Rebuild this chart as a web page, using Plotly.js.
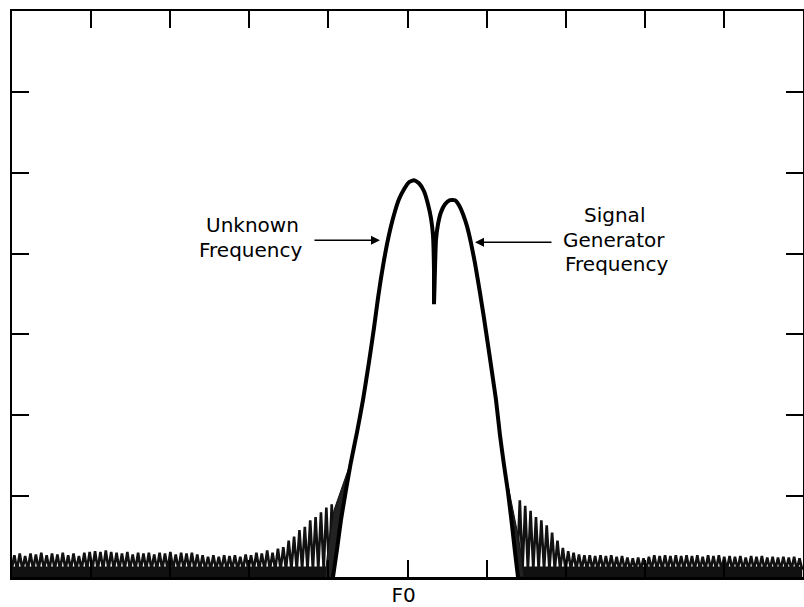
<!DOCTYPE html>
<html>
<head>
<meta charset="utf-8">
<script src="https://cdn.plot.ly/plotly-3.0.1.min.js"></script>
<style>html,body{margin:0;padding:0;background:#fff;}#chart{width:804px;height:607px;}</style>
</head>
<body>
<div id="chart"></div>
<script>
// Frequency axis in divisions (F0 at 5), amplitude in divisions (0..7)
const curveX = [4.058,4.108,4.159,4.222,4.285,4.362,4.437,4.513,4.576,4.627,4.665,4.703,4.741,4.791,4.842,4.892,4.956,5.019,5.082,5.145,5.209,5.259,5.297,5.322,5.335,5.335,5.347,5.360,5.386,5.423,5.474,5.537,5.601,5.651,5.702,5.752,5.803,5.853,5.917,5.967,6.018,6.068,6.119,6.169,6.220,6.270,6.321,6.359,6.397];
const curveY = [0,0.334,0.705,1.075,1.422,1.792,2.188,2.658,3.078,3.449,3.696,3.918,4.116,4.338,4.524,4.672,4.796,4.882,4.907,4.870,4.771,4.610,4.437,4.227,3.795,3.374,3.795,4.166,4.363,4.511,4.611,4.660,4.660,4.598,4.487,4.339,4.129,3.881,3.511,3.202,2.868,2.534,2.188,1.755,1.384,1.051,0.643,0.309,0];

// outer flank of the overlapping spectrum near the base
const leftFlankX = [3.957,4.008,4.071,4.147,4.248,4.362];
const leftFlankY = [0,0.457,0.828,1.038,1.323,1.792];
const rightFlankX = [6.169,6.245,6.321,6.397,6.448,6.473];
const rightFlankY = [1.755,1.261,0.890,0.519,0.210,0];

// sidelobe / noise peaks
const noiseLeftStart = 0.03, noiseRightStart = 6.42, noiseStep = 0.068, noiseFloor = 0.09, floorTop = 0.13;
const noiseLeftPeaks = [0.27,0.29,0.26,0.29,0.28,0.30,0.27,0.29,0.28,0.30,0.27,0.29,0.26,0.30,0.31,0.32,0.31,0.33,0.31,0.30,0.29,0.31,0.28,0.30,0.29,0.30,0.28,0.30,0.29,0.31,0.28,0.30,0.29,0.30,0.28,0.27,0.25,0.27,0.25,0.27,0.26,0.27,0.25,0.28,0.27,0.30,0.29,0.33,0.30,0.35,0.37,0.45,0.50,0.58,0.62,0.70,0.74,0.80,0.86,0.90];
const noiseRightPeaks = [0.95,0.88,0.82,0.74,0.70,0.64,0.55,0.45,0.36,0.32,0.30,0.28,0.27,0.27,0.26,0.27,0.26,0.27,0.25,0.26,0.24,0.23,0.24,0.23,0.25,0.27,0.26,0.27,0.26,0.27,0.26,0.27,0.26,0.27,0.25,0.27,0.26,0.27,0.25,0.26,0.25,0.26,0.24,0.26,0.25,0.26,0.24,0.25,0.24,0.25,0.24,0.25,0.23];

const tickVals = [0,1,2,3,4,5,6,7,8,9,10];
const tickText = ['','','','','','F0','','','','',''];
const yTickVals = [0,1,2,3,4,5,6,7];

function teeth(start, peaks) {
  const xs = [start - noiseStep/2], ys = [noiseFloor];
  peaks.forEach((p, i) => {
    const x = start + i * noiseStep;
    xs.push(x); ys.push(p);
    xs.push(x + noiseStep/2); ys.push(noiseFloor);
  });
  return {xs, ys};
}
const nl = teeth(noiseLeftStart, noiseLeftPeaks);
const nr = teeth(noiseRightStart, noiseRightPeaks);

function band(outX, outY, inX, inY) {
  return {x: outX.concat(inX.slice().reverse()), y: outY.concat(inY.slice().reverse())};
}
const lIdx = curveX.map((v,i)=>i).filter(i => curveX[i] <= leftFlankX[leftFlankX.length-1]);
const rIdx = curveX.map((v,i)=>i).filter(i => curveX[i] >= rightFlankX[0]);
const lb = band(leftFlankX, leftFlankY, lIdx.map(i=>curveX[i]), lIdx.map(i=>curveY[i]));
const rb = band(rightFlankX, rightFlankY, rIdx.map(i=>curveX[i]), rIdx.map(i=>curveY[i]));

const nlEnd = nl.xs[nl.xs.length-1], nrEnd = nr.xs[nr.xs.length-1];

const traces = [
  {x: [nl.xs[0], nlEnd], y: [floorTop, floorTop], mode: 'lines', fill: 'tozeroy', fillcolor: '#111', line: {color: '#111', width: 0}, hoverinfo: 'skip'},
  {x: [nr.xs[0], nrEnd], y: [floorTop, floorTop], mode: 'lines', fill: 'tozeroy', fillcolor: '#111', line: {color: '#111', width: 0}, hoverinfo: 'skip'},
  {x: nl.xs, y: nl.ys, mode: 'lines', line: {color: '#111', width: 2.6}, hoverinfo: 'skip'},
  {x: nr.xs, y: nr.ys, mode: 'lines', line: {color: '#111', width: 2.6}, hoverinfo: 'skip'},
  {x: lb.x, y: lb.y, mode: 'lines', fill: 'toself', fillcolor: '#222', line: {color: '#111', width: 1}, hoverinfo: 'skip'},
  {x: rb.x, y: rb.y, mode: 'lines', fill: 'toself', fillcolor: '#222', line: {color: '#111', width: 1}, hoverinfo: 'skip'},
  {x: curveX, y: curveY, mode: 'lines', line: {color: '#000', width: 4, shape: 'spline', smoothing: 0.5}, hoverinfo: 'skip'}
];

const fnt = {family: 'DejaVu Sans', size: 20, color: '#000'};
const layout = {
  width: 804, height: 607,
  margin: {l: 12, r: 1, t: 11, b: 30},
  paper_bgcolor: '#fff', plot_bgcolor: '#fff',
  showlegend: false,
  xaxis: {range: [0, 10], tickvals: tickVals, ticktext: tickText, ticks: 'inside', ticklen: 17, tickwidth: 2, tickcolor: '#000',
          showline: true, linewidth: 2.5, linecolor: '#000', mirror: 'ticks', showgrid: false, zeroline: false,
          tickfont: {family: 'DejaVu Sans', size: 20, color: '#000'}, ticklabelshift: -4, ticklabelstandoff: -2, fixedrange: true},
  yaxis: {range: [0, 7], tickvals: yTickVals, showticklabels: false, ticks: 'inside', ticklen: 17, tickwidth: 2, tickcolor: '#000',
          showline: true, linewidth: 2.5, linecolor: '#000', mirror: 'ticks', showgrid: false, zeroline: false, fixedrange: true},
  annotations: [
    {x: 3.040, y: 4.357, text: 'Unknown', showarrow: false, font: fnt, xanchor: 'center', yanchor: 'middle'},
    {x: 3.015, y: 4.042, text: 'Frequency', showarrow: false, font: fnt, xanchor: 'center', yanchor: 'middle'},
    {x: 7.611, y: 4.474, text: 'Signal', showarrow: false, font: fnt, xanchor: 'center', yanchor: 'middle'},
    {x: 7.611, y: 4.166, text: 'Generator', showarrow: false, font: fnt, xanchor: 'center', yanchor: 'middle'},
    {x: 7.636, y: 3.869, text: 'Frequency', showarrow: false, font: fnt, xanchor: 'center', yanchor: 'middle'},
    {x: 4.652, y: 4.166, text: '', showarrow: true, ax: -67, ay: 0, arrowhead: 2, arrowsize: 1.2, arrowwidth: 1.5, arrowcolor: '#000', standoff: 0},
    {x: 5.853, y: 4.141, text: '', showarrow: true, ax: 78, ay: 0, arrowhead: 2, arrowsize: 1.2, arrowwidth: 1.5, arrowcolor: '#000', standoff: 0}
  ]
};
Plotly.newPlot('chart', traces, layout, {staticPlot: true, displayModeBar: false});
</script>
</body>
</html>
